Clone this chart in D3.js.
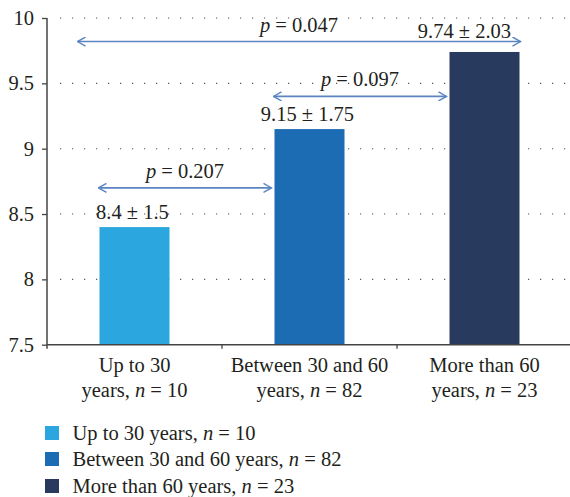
<!DOCTYPE html>
<html>
<head>
<meta charset="utf-8">
<script src="https://cdn.jsdelivr.net/npm/d3@7"></script>
<style>
  html, body { margin: 0; padding: 0; background: #fff; }
  svg { display: block; }
  text { font-family: "Liberation Serif", "DejaVu Serif", serif; fill: #231f20; }
</style>
</head>
<body>
<svg id="chart" width="570" height="497"></svg>
<script>
// Age groups and mean scores
const categories = ["Up to 30 years", "Between 30 and 60 years", "More than 60 years"];
const axisLine1 = ["Up to 30", "Between 30 and 60", "More than 60"];
const groupN = [10, 82, 23];
const means = [8.4, 9.15, 9.74];
const sds = [1.5, 1.75, 2.03];
const colors = ["#2ca6de", "#1c6cb4", "#283a5d"];
const yTicks = [7.5, 8, 8.5, 9, 9.5, 10];
const yTickLabels = ["7.5", "8", "8.5", "9", "9.5", "10"];

// Pairwise comparisons: from group, to group, bracket level, p value
const compFrom = [0, 1, 0];
const compTo = [1, 2, 2];
const compLevel = [8.7, 9.4, 9.82];
const compP = ["0.207", "0.097", "0.047"];

const svg = d3.select("#chart");
const W = 570;
const FS = 20.5;
const plotLeft = 47, plotTop = 18, plotBottom = 344.7;

const x = d3.scaleBand().domain(categories).range([plotLeft, 572]).paddingInner(0.6).paddingOuter(0.3);
const y = d3.scaleLinear().domain([7.5, 10]).range([plotBottom, plotTop]);

// dotted gridlines
svg.append("g").selectAll("line")
  .data(yTicks.filter(d => d > 7.5))
  .join("line")
  .attr("x1", 60).attr("x2", W)
  .attr("y1", d => y(d)).attr("y2", d => y(d))
  .attr("stroke", "#555").attr("stroke-width", 1.1)
  .attr("stroke-dasharray", "1.2,10.8");

// bars
svg.append("g").selectAll("rect")
  .data(categories)
  .join("rect")
  .attr("x", d => x(d))
  .attr("width", x.bandwidth())
  .attr("y", (d, i) => y(means[i]))
  .attr("height", (d, i) => y(7.5) - y(means[i]))
  .attr("fill", (d, i) => colors[i]);

// y axis
const yAxis = d3.axisLeft(y).tickValues(yTicks).tickFormat((d, i) => yTickLabels[i]).tickSize(5).tickPadding(8);
const gy = svg.append("g").attr("transform", `translate(${plotLeft},0)`).call(yAxis);
gy.select(".domain").remove();
gy.selectAll(".tick line").attr("stroke", "#444").attr("stroke-width", 1.3);
gy.selectAll(".tick text").attr("font-size", FS).attr("fill", "#231f20");
svg.append("line").attr("x1", plotLeft).attr("x2", plotLeft).attr("y1", plotTop).attr("y2", plotBottom + 4)
  .attr("stroke", "#444").attr("stroke-width", 1.5);

// x axis line and band separators
svg.append("line").attr("x1", plotLeft).attr("x2", W).attr("y1", plotBottom).attr("y2", plotBottom)
  .attr("stroke", "#444").attr("stroke-width", 1.5);
const step = x.step();
svg.append("g").selectAll("line")
  .data(categories.slice(1))
  .join("line")
  .attr("x1", d => x(d) - step * x.paddingInner() / 2)
  .attr("x2", d => x(d) - step * x.paddingInner() / 2)
  .attr("y1", plotBottom).attr("y2", plotBottom + 4)
  .attr("stroke", "#444").attr("stroke-width", 1.3);

// category labels
const xl = svg.append("g").selectAll("text")
  .data(categories)
  .join("text")
  .attr("x", d => x(d) + x.bandwidth() / 2)
  .attr("text-anchor", "middle")
  .attr("font-size", FS);
xl.append("tspan").attr("x", d => x(d) + x.bandwidth() / 2).attr("y", 372).text((d, i) => axisLine1[i]);
xl.each(function (d, i) {
  const t = d3.select(this).append("tspan").attr("x", x(d) + x.bandwidth() / 2).attr("y", 397);
  t.append("tspan").text("years, ");
  t.append("tspan").attr("font-style", "italic").text("n");
  t.append("tspan").text(" = " + groupN[i]);
});

// value labels
svg.append("g").selectAll("text")
  .data(categories)
  .join("text")
  .attr("x", (d, i) => x(d) + x.bandwidth() / 2 + (i === 2 ? -20 : -2))
  .attr("y", (d, i) => y(means[i]) - (i === 2 ? 14 : 8.5))
  .attr("text-anchor", "middle")
  .attr("font-size", FS)
  .text((d, i) => `${means[i]} ± ${sds[i]}`);

// comparison arrows
const arrowColor = "#5b85c2";
const defs = svg.append("defs");
defs.append("marker").attr("id", "headEnd").attr("viewBox", "0 0 10 10")
  .attr("refX", 9).attr("refY", 5).attr("markerWidth", 10).attr("markerHeight", 10)
  .attr("markerUnits", "userSpaceOnUse").attr("orient", "auto")
  .append("path").attr("d", "M1,0.5 L9,5 L1,9.5").attr("fill", "none")
  .attr("stroke", arrowColor).attr("stroke-width", 1.4);
defs.append("marker").attr("id", "headStart").attr("viewBox", "0 0 10 10")
  .attr("refX", 1).attr("refY", 5).attr("markerWidth", 10).attr("markerHeight", 10)
  .attr("markerUnits", "userSpaceOnUse").attr("orient", "auto")
  .append("path").attr("d", "M9,0.5 L1,5 L9,9.5").attr("fill", "none")
  .attr("stroke", arrowColor).attr("stroke-width", 1.4);

const comps = compP.map((p, i) => {
  const a = categories[compFrom[i]], b = categories[compTo[i]];
  let x1, x2;
  if (i === 2) { x1 = x(a) - 22; x2 = x(b) + x.bandwidth() + 1; }
  else { x1 = x(a) - 1; x2 = x(b) - 3; }
  return { x1, x2, yv: compLevel[i], p };
});
const cg = svg.append("g");
cg.selectAll("line").data(comps).join("line")
  .attr("x1", d => d.x1).attr("x2", d => d.x2)
  .attr("y1", d => y(d.yv)).attr("y2", d => y(d.yv))
  .attr("stroke", arrowColor).attr("stroke-width", 1.6)
  .attr("marker-start", "url(#headStart)").attr("marker-end", "url(#headEnd)");
const pl = cg.selectAll("text").data(comps).join("text")
  .attr("x", d => (d.x1 + d.x2) / 2)
  .attr("y", d => y(d.yv) - 10)
  .attr("text-anchor", "middle").attr("font-size", FS);
pl.append("tspan").attr("font-style", "italic").text("p");
pl.append("tspan").text(d => " = " + d.p);

// legend
const lg = svg.append("g").selectAll("g").data(categories).join("g")
  .attr("transform", (d, i) => `translate(45, ${[433, 459, 486][i]})`);
lg.append("rect").attr("x", 0).attr("y", -7).attr("width", 14).attr("height", 14)
  .attr("fill", (d, i) => colors[i]);
const lt = lg.append("text").attr("x", 27.5).attr("y", 6.5).attr("font-size", FS);
lt.append("tspan").text(d => d + ", ");
lt.append("tspan").attr("font-style", "italic").text("n");
lt.append("tspan").text((d, i) => " = " + groupN[i]);
</script>
</body>
</html>
